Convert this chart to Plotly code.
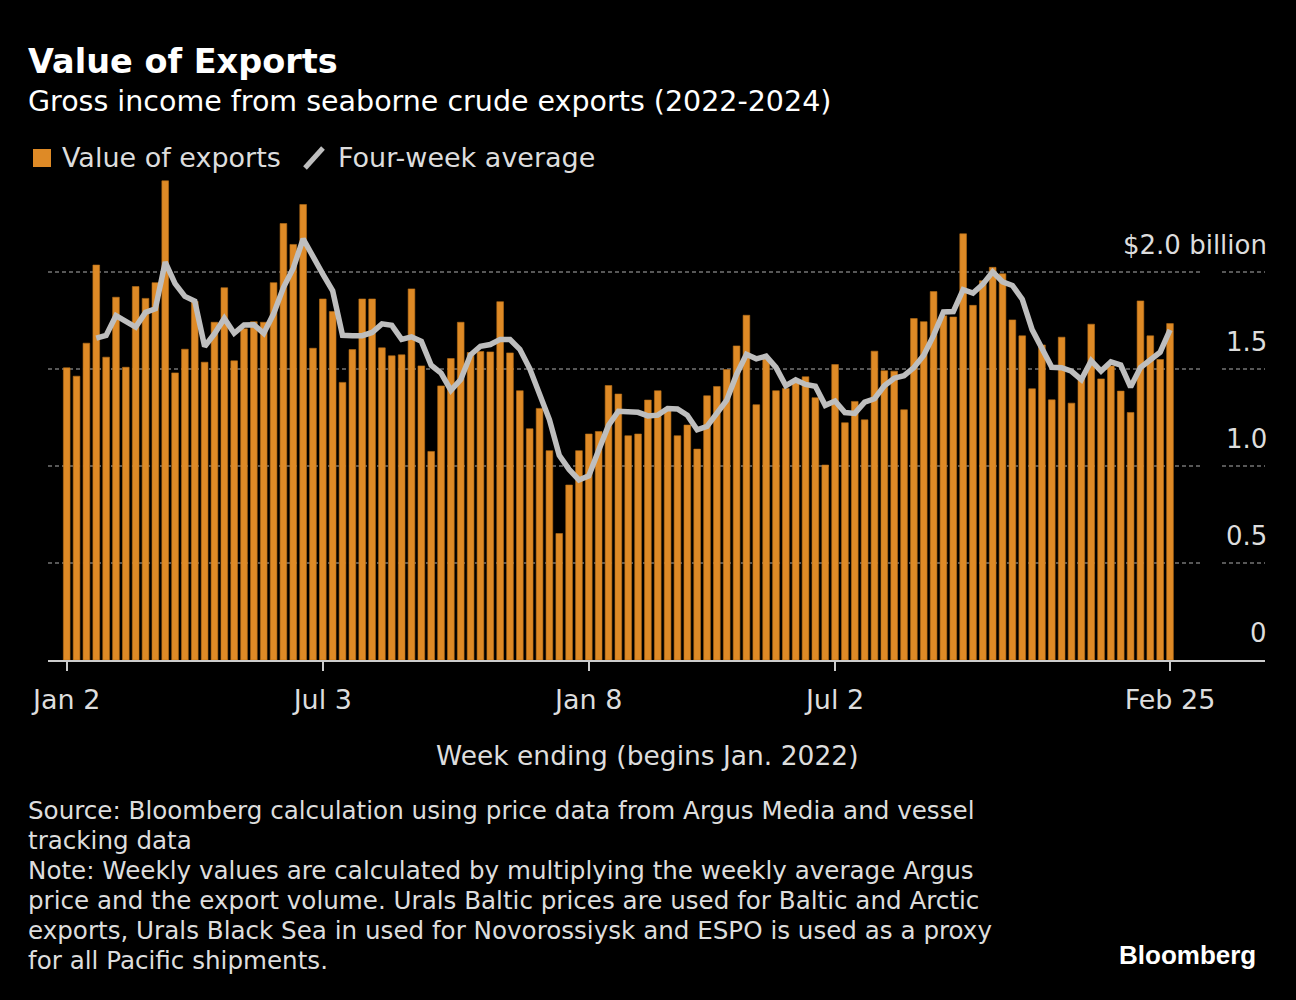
import plotly.graph_objects as go
import pandas as pd

# weekly gross income, $ billion (week ending, first week Jan 2 2022)
export_values = [
    1.506, 1.463, 1.633, 2.036, 1.561, 1.870, 1.509, 1.925, 1.864, 1.945,
    2.470, 1.480, 1.602, 1.848, 1.535, 1.741, 1.919, 1.542, 1.707, 1.744,
    1.741, 1.945, 2.250, 2.142, 2.348, 1.607, 1.861, 1.796, 1.431, 1.600,
    1.861, 1.861, 1.609, 1.568, 1.573, 1.913, 1.516, 1.075, 1.413, 1.554,
    1.741, 1.585, 1.590, 1.588, 1.847, 1.583, 1.388, 1.192, 1.297, 1.079,
    0.652, 0.902, 1.079, 1.165, 1.178, 1.415, 1.371, 1.156, 1.165, 1.340,
    1.388, 1.293, 1.156, 1.211, 1.087, 1.362, 1.410, 1.497, 1.619, 1.777,
    1.316, 1.552, 1.388, 1.400, 1.434, 1.460, 1.352, 1.005, 1.523, 1.223,
    1.333, 1.238, 1.592, 1.491, 1.489, 1.290, 1.760, 1.744, 1.899, 1.774,
    1.768, 2.197, 1.828, 1.955, 2.024, 1.991, 1.753, 1.671, 1.398, 1.624,
    1.341, 1.664, 1.324, 1.453, 1.731, 1.449, 1.516, 1.386, 1.276, 1.851,
    1.671, 1.549, 1.734,
]
weeks = pd.date_range("2022-01-02", periods=len(export_values), freq="7D")

# four-week average of the weekly values
four_week_avg = pd.Series(export_values).rolling(4).mean()

tick_dates = ["2022-01-02", "2022-07-03", "2023-01-08", "2023-07-02", "2024-02-25"]
tick_labels = ["Jan 2", "Jul 3", "Jan 8", "Jul 2", "Feb 25"]
grid_vals = [0.5, 1.0, 1.5, 2.0]
y_ticks = [0, 0.5, 1.0, 1.5, 2.0]
y_labels = ["0", "0.5", "1.0", "1.5", "$2.0 billion"]

footer_lines = [
    "Source: Bloomberg calculation using price data from Argus Media and vessel",
    "tracking data",
    "Note: Weekly values are calculated by multiplying the weekly average Argus",
    "price and the export volume. Urals Baltic prices are used for Baltic and Arctic",
    "exports, Urals Black Sea in used for Novorossiysk and ESPO is used as a proxy",
    "for all Pacific shipments.",
]

FONT = "DejaVu Sans, sans-serif"
ORANGE = "#DE8A26"
GREY_LINE = "#BEBEBE"
TXT = "#DDDDDD"

# plot area in pixels: x 48..1265, y 175..660
L, R, T, B = 48, 1265, 175, 660


def px(x):
    return (x - L) / (R - L)


def py(y):
    return (B - y) / (B - T)


fig = go.Figure()
fig.add_trace(go.Bar(
    x=weeks, y=export_values, name="Value of exports",
    marker=dict(color=ORANGE, line=dict(color="#B86E18", width=0.6)),
    width=4.75 * 86400000,
))
fig.add_trace(go.Scatter(
    x=weeks, y=four_week_avg, mode="lines", name="Four-week average",
    line=dict(color=GREY_LINE, width=5.5),
))

annotations = []
for v, lab in zip(y_ticks, y_labels):
    annotations.append(dict(
        xref="paper", yref="y", x=px(1269), y=v, yshift=27,
        text=lab, showarrow=False, xanchor="right", yanchor="middle",
        font=dict(size=26, color=TXT, family=FONT),
    ))

annotations += [
    dict(xref="paper", yref="paper", x=px(26), y=py(62), text="<b>Value of Exports</b>",
         showarrow=False, xanchor="left", yanchor="middle",
         font=dict(size=33.5, color="white", family=FONT)),
    dict(xref="paper", yref="paper", x=px(26), y=py(101),
         text="Gross income from seaborne crude exports (2022-2024)",
         showarrow=False, xanchor="left", yanchor="middle",
         font=dict(size=28.5, color="white", family=FONT)),
    dict(xref="paper", yref="paper", x=px(60), y=py(158), text="Value of exports",
         showarrow=False, xanchor="left", yanchor="middle",
         font=dict(size=27, color=TXT, family=FONT)),
    dict(xref="paper", yref="paper", x=px(336), y=py(158), text="Four-week average",
         showarrow=False, xanchor="left", yanchor="middle",
         font=dict(size=27, color=TXT, family=FONT)),
    dict(xref="paper", yref="paper", x=px(647), y=py(755),
         text="Week ending (begins Jan. 2022)",
         showarrow=False, xanchor="center", yanchor="middle",
         font=dict(size=26.5, color=TXT, family=FONT)),
    dict(xref="paper", yref="paper", x=px(1258), y=py(955), text="<b>Bloomberg</b>",
         showarrow=False, xanchor="right", yanchor="middle",
         font=dict(size=26, color="white", family="Liberation Sans, Arial, sans-serif")),
]
for i, line in enumerate(footer_lines):
    annotations.append(dict(
        xref="paper", yref="paper", x=px(26), y=py(810 + 30 * i), text=line,
        showarrow=False, xanchor="left", yanchor="middle",
        font=dict(size=24.6, color=TXT, family=FONT),
    ))

shapes = [
    # legend icons
    dict(type="rect", xref="paper", yref="paper",
         x0=px(33), x1=px(51), y0=py(167), y1=py(149),
         fillcolor=ORANGE, line=dict(width=0)),
    dict(type="line", xref="paper", yref="paper",
         x0=px(305), x1=px(323), y0=py(168), y1=py(148),
         line=dict(color=GREY_LINE, width=5)),
]
# dotted grid lines, broken just left of the value labels
for v in grid_vals:
    for x0, x1 in [(L, 1203), (1222, R)]:
        shapes.append(dict(
            type="line", xref="paper", yref="y", layer="below",
            x0=px(x0), x1=px(x1), y0=v, y1=v,
            line=dict(color="#747474", width=1.5, dash="4px,3px"),
        ))

fig.update_layout(
    width=1296, height=1000,
    margin=dict(l=L, r=1296 - R, t=T, b=1000 - B),
    paper_bgcolor="black", plot_bgcolor="black",
    showlegend=False,
    annotations=annotations,
    shapes=shapes,
    xaxis=dict(
        type="date",
        range=["2021-12-19 17:00", "2024-05-02 12:00"],
        tickvals=tick_dates, ticktext=tick_labels,
        ticks="outside", ticklen=9, tickwidth=1.5, tickcolor="#CCCCCC",
        ticklabelstandoff=6,
        tickfont=dict(size=27, color=TXT, family=FONT),
        showgrid=False, showline=True, linecolor="#CCCCCC", linewidth=2,
        zeroline=False,
    ),
    yaxis=dict(
        range=[0, 2.5],
        showticklabels=False, ticks="",
        showgrid=False, zeroline=False, showline=False,
    ),
)

fig.write_html(
    "out.html",
    config={"displayModeBar": False},
    post_script="document.body.style.margin='0';document.body.style.background='black';",
)
